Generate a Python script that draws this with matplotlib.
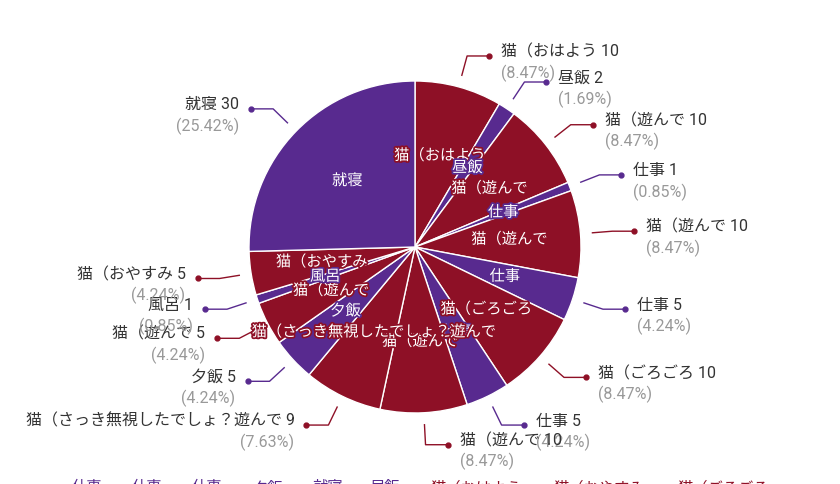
import numpy as np
import matplotlib.pyplot as plt
import matplotlib.patheffects as pe

plt.rcParams['font.family'] = ['Roboto', 'Noto Sans CJK JP', 'DejaVu Sans']

names = ['猫（おはよう', '昼飯', '猫（遊んで', '仕事', '猫（遊んで', '仕事', '猫（ごろごろ',
         '仕事', '猫（遊んで', '猫（さっき無視したでしょ？遊んで', '夕飯', '猫（遊んで',
         '風呂', '猫（おやすみ', '就寝']
values = [10, 2, 10, 1, 10, 5, 10, 5, 10, 9, 5, 5, 1, 5, 30]
legend_names = ['仕事', '仕事', '仕事', '夕飯', '就寝', '昼飯', '猫（おはよう', '猫（おやすみ', '猫（ごろごろ']

RED = '#8e1026'
PURPLE = '#582a8f'
colors = [RED if n.startswith('猫') else PURPLE for n in names]

W, H = 840, 484
fig = plt.figure(figsize=(W / 100, H / 100), dpi=100)
ax = fig.add_axes([0, 0, 1, 1])

cx, cy, r = 415, H - 247, 166
wedges, _ = ax.pie(values, colors=colors, startangle=90, counterclock=False,
                   center=(cx, cy), radius=r,
                   wedgeprops=dict(edgecolor='white', linewidth=1))
ax.set_xlim(0, W)
ax.set_ylim(0, H)
ax.set_aspect('equal')
ax.axis('off')

total = sum(values)
for w, name, v, col in zip(wedges, names, values, colors):
    mid = np.deg2rad((w.theta1 + w.theta2) / 2)
    u = np.array([np.cos(mid), np.sin(mid)])
    # inner label
    ix, iy = cx + 0.57 * r * u[0], cy + 0.57 * r * u[1]
    ax.text(ix, iy, name, color='white', fontsize=11, ha='center', va='center', zorder=5,
            path_effects=[pe.withStroke(linewidth=2.5, foreground=col)])
    # leader line
    p0 = np.array([cx, cy]) + (r + 12) * u
    p1 = np.array([cx, cy]) + (r + 32) * u
    side = 1 if u[0] >= 0 else -1
    p2 = p1 + np.array([22 * side, 0])
    ax.plot([p0[0], p1[0], p2[0]], [p0[1], p1[1], p2[1]], color=col, lw=1, zorder=4)
    ax.plot(p2[0], p2[1], 'o', color=col, ms=3.5, zorder=4)
    tx = p2[0] + 12 * side
    ha = 'left' if side > 0 else 'right'
    ax.text(tx, p2[1] + 4, f'{name} {v}', color='#333333', fontsize=11.5, ha=ha, va='center', zorder=6)
    ax.text(tx, p2[1] - 17, f'({v / total * 100:.2f}%)', color='#999999', fontsize=11.5,
            ha=ha, va='center', zorder=6)

# legend, mostly cut off at the bottom edge
legend_x = [72, 132, 192, 253, 312, 370, 430, 553, 677]
for x, n in zip(legend_x, legend_names):
    ax.text(x, H - 481, n, color=RED if n.startswith('猫') else PURPLE, fontsize=11,
            ha='left', va='top')

fig.savefig('out.png', dpi=100)
